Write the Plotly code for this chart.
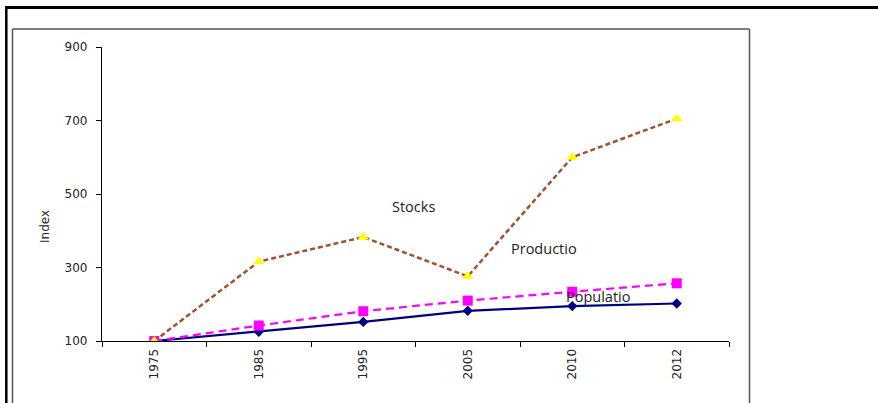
import plotly.graph_objects as go

years = ["1975", "1985", "1995", "2005", "2010", "2012"]
stocks = [100, 316, 383, 276, 600, 705]
production = [100, 142, 181, 210, 234, 257]
population = [100, 125, 152, 182, 195, 202]
y_ticks = [100, 300, 500, 700, 900]

W, H = 878, 403
L, R, T, B = 102, 729, 47, 341

def px(x):
    return (x - L) / (R - L)

def py(y):
    return (B - y) / (B - T)

fig = go.Figure()
fig.add_trace(go.Scatter(x=years, y=population, mode="lines+markers", name="Population",
                         line=dict(color="#000080", width=2.2),
                         marker=dict(symbol="diamond", size=8, color="#000080")))
fig.add_trace(go.Scatter(x=years, y=production, mode="lines+markers", name="Production",
                         line=dict(color="#FF00FF", width=2.2, dash="8px,5px"),
                         marker=dict(symbol="square", size=10, color="#FF00FF")))
fig.add_trace(go.Scatter(x=years, y=stocks, mode="lines+markers", name="Stocks",
                         line=dict(color="#A0522D", width=2.5, dash="5px,3px"),
                         marker=dict(symbol="triangle-up", size=10, color="#FFFF00")))

tickfont = dict(family="DejaVu Sans", size=12, color="#222222")
fig.update_layout(
    width=W, height=H,
    margin=dict(l=L, r=W - R, t=T, b=H - B),
    paper_bgcolor="white", plot_bgcolor="white",
    showlegend=False,
    xaxis=dict(type="category", range=[-0.5, 5.5], showgrid=False, zeroline=False,
               showline=True, linecolor="black", linewidth=1.3,
               ticks="outside", ticklen=5, tickcolor="black", tickson="boundaries",
               tickangle=-90, tickfont=tickfont, ticklabelstandoff=2),
    yaxis=dict(range=[100, 900], tickvals=y_ticks, showgrid=False, zeroline=False,
               showline=True, linecolor="black", linewidth=1.3,
               ticks="outside", ticklen=5, tickcolor="black", tickfont=tickfont,
               ticklabelstandoff=6),
)

shapes = [
    # outer thick frame
    dict(type="line", xref="paper", yref="paper", x0=px(6), x1=px(880), y0=py(7.5), y1=py(7.5),
         line=dict(color="black", width=3)),
    dict(type="line", xref="paper", yref="paper", x0=px(6.3), x1=px(6.3), y0=py(6), y1=py(405),
         line=dict(color="black", width=2.5)),
    # inner gray frame
    dict(type="line", xref="paper", yref="paper", x0=px(12.5), x1=px(749.5), y0=py(29), y1=py(29),
         line=dict(color="#555555", width=1.5)),
    dict(type="line", xref="paper", yref="paper", x0=px(12.5), x1=px(12.5), y0=py(29), y1=py(405),
         line=dict(color="#555555", width=1.5)),
    dict(type="line", xref="paper", yref="paper", x0=px(749.5), x1=px(749.5), y0=py(29), y1=py(405),
         line=dict(color="#555555", width=1.5)),
]
fig.update_layout(shapes=shapes)

labfont = dict(family="Open Sans", size=14.5, color="#222222")
annots = [
    dict(text="Stocks", x=px(413), y=py(207)),
    dict(text="Productio", x=px(544), y=py(248)),
    dict(text="Populatio", x=px(598), y=py(296)),
]
for a in annots:
    fig.add_annotation(xref="paper", yref="paper", showarrow=False, font=labfont,
                       xanchor="center", yanchor="middle", **a)
fig.add_annotation(text="Index", xref="paper", yref="paper", x=px(45), y=py(227),
                   showarrow=False, textangle=-90, font=dict(family="DejaVu Sans", size=12, color="#222222"),
                   xanchor="center", yanchor="middle")

fig.write_html("out.html")
